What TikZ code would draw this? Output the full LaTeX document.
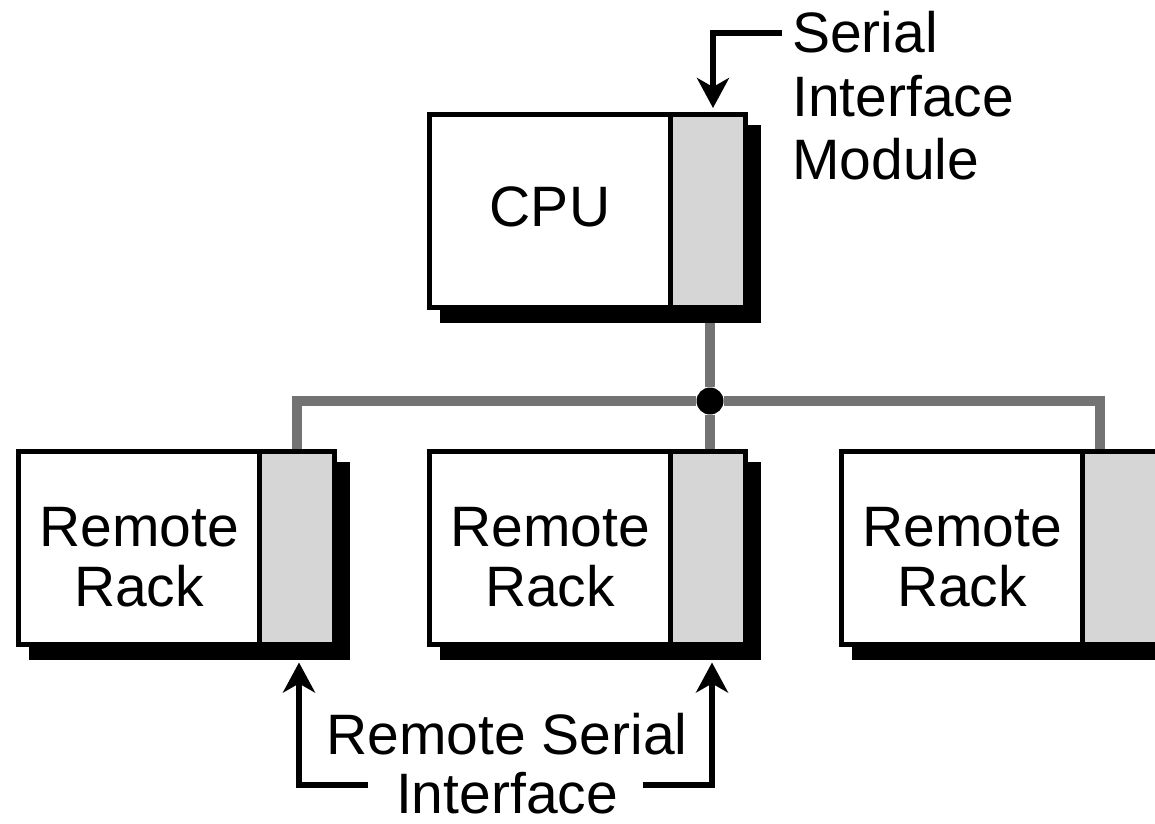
\documentclass[tikz,border=0pt]{standalone}
\usepackage{fontspec}
\setmainfont{Liberation Sans}
\usetikzlibrary{arrows.meta,backgrounds}
\definecolor{modgray}{HTML}{D6D6D6}
\definecolor{busgray}{HTML}{737373}
\begin{document}
\begin{tikzpicture}[x=1pt,y=-1pt,
  unitbox/.style={draw=black, fill=white, line width=5pt, minimum width=241pt,
    minimum height=193pt, inner sep=0pt},
  modbox/.style={draw=black, fill=modgray, line width=5pt, minimum width=75pt,
    minimum height=193pt, inner sep=0pt},
  lbl/.style={font=\fontsize{57}{60}\selectfont, align=center, inner sep=0pt},
  callout/.style={line width=5.5pt, line join=miter,
    -{Stealth[length=30pt 0, width=32pt 0, inset=9pt 0]}},
  bus/.style={draw=busgray, line width=10pt, line join=miter},
  dropshade/.style={fill=black}]
\useasboundingbox (0,0) rectangle (1155,823);

% CPU with its serial interface module
\node[unitbox] (cpu) at (550,211) {};
\node[modbox] (cpusim) at (708,211) {};

% remote racks, each with a remote serial interface
\node[unitbox] (rack1) at (139,547.5) {};
\node[modbox] (rack1sim) at (297,547.5) {};
\node[unitbox] (rack2) at (550,547.5) {};
\node[modbox] (rack2sim) at (708,547.5) {};
\node[unitbox] (rack3) at (962,547.5) {};
\node[modbox] (rack3sim) at (1120,547.5) {};

% box texts
\node[lbl] (cpulabel) at (550,207) {CPU};
\node[lbl] (rack1label) at (139,557) {Remote\\Rack};
\node[lbl] (rack2label) at (550,557) {Remote\\Rack};
\node[lbl] (rack3label) at (962,557) {Remote\\Rack};

% bus junction
\node[circle, fill=black, minimum size=27pt, inner sep=0pt] (junction) at (710,401) {};

% shadows and bus behind the boxes
\begin{pgfonlayer}{background}
  \draw[bus] (junction) -- (junction |- cpusim.south);
  \draw[bus] (junction) -- (junction |- rack2sim.north);
  \draw[bus] (rack1sim.north) |- (junction) -| ([xshift=-20pt]rack3sim.north);
  \foreach \u in {cpu,rack1,rack2,rack3}
    \fill[dropshade] ([shift={(13,13)}]\u.north west) rectangle ([shift={(13,13)}]\u sim.south east);
\end{pgfonlayer}

% callouts
\node[lbl, align=left, anchor=north west, font=\fontsize{57}{63.5}\selectfont]
  (simlbl) at (792,11) {Serial\\Interface\\Module};
\coordinate (simtail) at (782,33);
\draw[callout] (simtail) -| ([xshift=5pt,yshift=4pt]cpusim.north);

\node[lbl, anchor=north, font=\fontsize{57}{59}\selectfont]
  (rsilbl) at (507,713) {Remote Serial\\Interface};
\coordinate (rsiL) at (368,785);
\coordinate (rsiR) at (643,785);
\draw[callout] (rsiL) -| ([xshift=2pt,yshift=-16pt]rack1sim.south);
\draw[callout] (rsiR) -| ([xshift=4pt,yshift=-16pt]rack2sim.south);
\end{tikzpicture}
\end{document}
